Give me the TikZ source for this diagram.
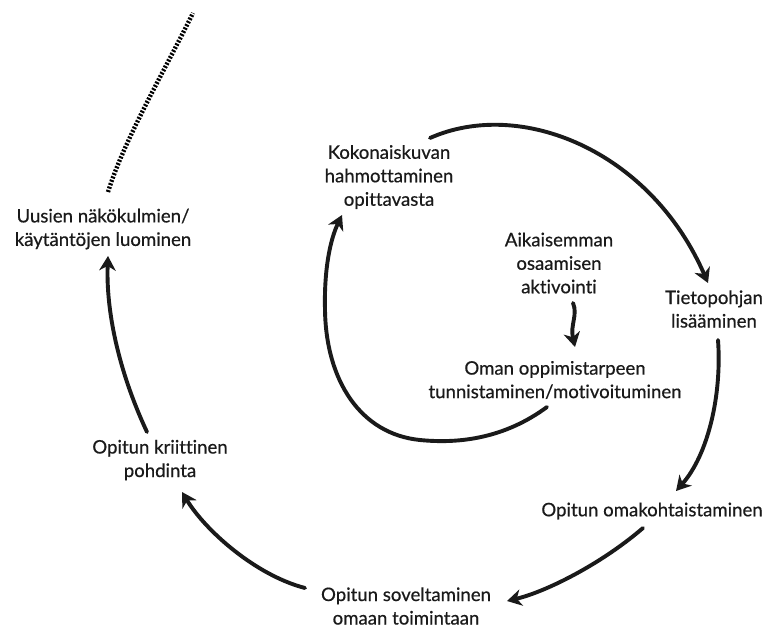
\documentclass[tikz,border=0pt]{standalone}
\usepackage{fontspec}
\setmainfont{Lato}[Ligatures={NoCommon,NoRequired,NoContextual},FakeBold=0.5]
\usetikzlibrary{arrows.meta}
\definecolor{ink}{HTML}{1A1A1A}
\tikzset{
  lbl/.style={align=center, inner sep=0pt, text=ink, font=\fontsize{18.6}{23.5}\selectfont},
  flow/.style={draw=ink, line width=3.9pt, line cap=round, -{Stealth[length=14.5pt,width=16.5pt,inset=4.5pt]}},
  dots/.style={draw=black, line width=4.4pt, dash pattern=on 2pt off 1.6pt}
}
\begin{document}
\begin{tikzpicture}[x=1pt,y=-1pt]
\useasboundingbox (0,0) rectangle (770,629);
\fill[white] (0,0) rectangle (770,629);

\node[lbl] (uus) at (103,229) {Uusien näkökulmien/\\käytäntöjen luominen};
\node[lbl] (kok) at (389,177) {Kokonaiskuvan\\hahmottaminen\\opittavasta};
\node[lbl] (aik) at (559,263) {Aikaisemman\\osaamisen\\aktivointi};
\node[lbl] (tie) at (714,309) {Tietopohjan\\lisääminen};
\node[lbl] (oma) at (555,380) {Oman oppimistarpeen\\tunnistaminen/motivoituminen};
\node[lbl] (omk) at (652,511) {Opitun omakohtaistaminen};
\node[lbl] (sov) at (406,606) {Opitun soveltaminen\\omaan toimintaan};
\node[lbl] (kri) at (160,460) {Opitun kriittinen\\pohdinta};

% connector end points
\coordinate (dotA) at (108,192);
\coordinate (dotB) at (193,13);
\coordinate (kriS) at (147,432);
\coordinate (uusE) at (108,256);
\coordinate (sovS) at (305,588);
\coordinate (kriE) at (182,492);
\coordinate (omkS) at (643,528);
\coordinate (sovE) at (507,601);
\coordinate (tieS) at (718,340);
\coordinate (omkE) at (676,491);
\coordinate (kokS) at (430,138);
\coordinate (tieE) at (708,283);
\coordinate (omaS) at (547,407);
\coordinate (kokE) at (342,215);
\coordinate (aikS) at (573,303);
\coordinate (omaE) at (575,347);

\draw[dots] (dotA) .. controls (124,140) and (166,68) .. (dotB);
\draw[flow] (kriS) .. controls (118,370) and (106,310) .. (uusE);
\draw[flow] (sovS) .. controls (255,575) and (205,530) .. (kriE);
\draw[flow] (omkS) .. controls (600,565) and (545,592) .. (sovE);
\draw[flow] (tieS) .. controls (722,395) and (708,455) .. (omkE);
\draw[flow] (kokS) .. controls (520,98) and (650,150) .. (tieE);
\draw[flow] (omaS) .. controls (505,438) and (460,444) .. (420,440)
  .. controls (360,434) and (326,380) .. (325,310)
  .. controls (324,270) and (330,240) .. (kokE);
\draw[flow] (aikS) .. controls (578,315) and (570,325) .. (omaE);
\end{tikzpicture}
\end{document}
